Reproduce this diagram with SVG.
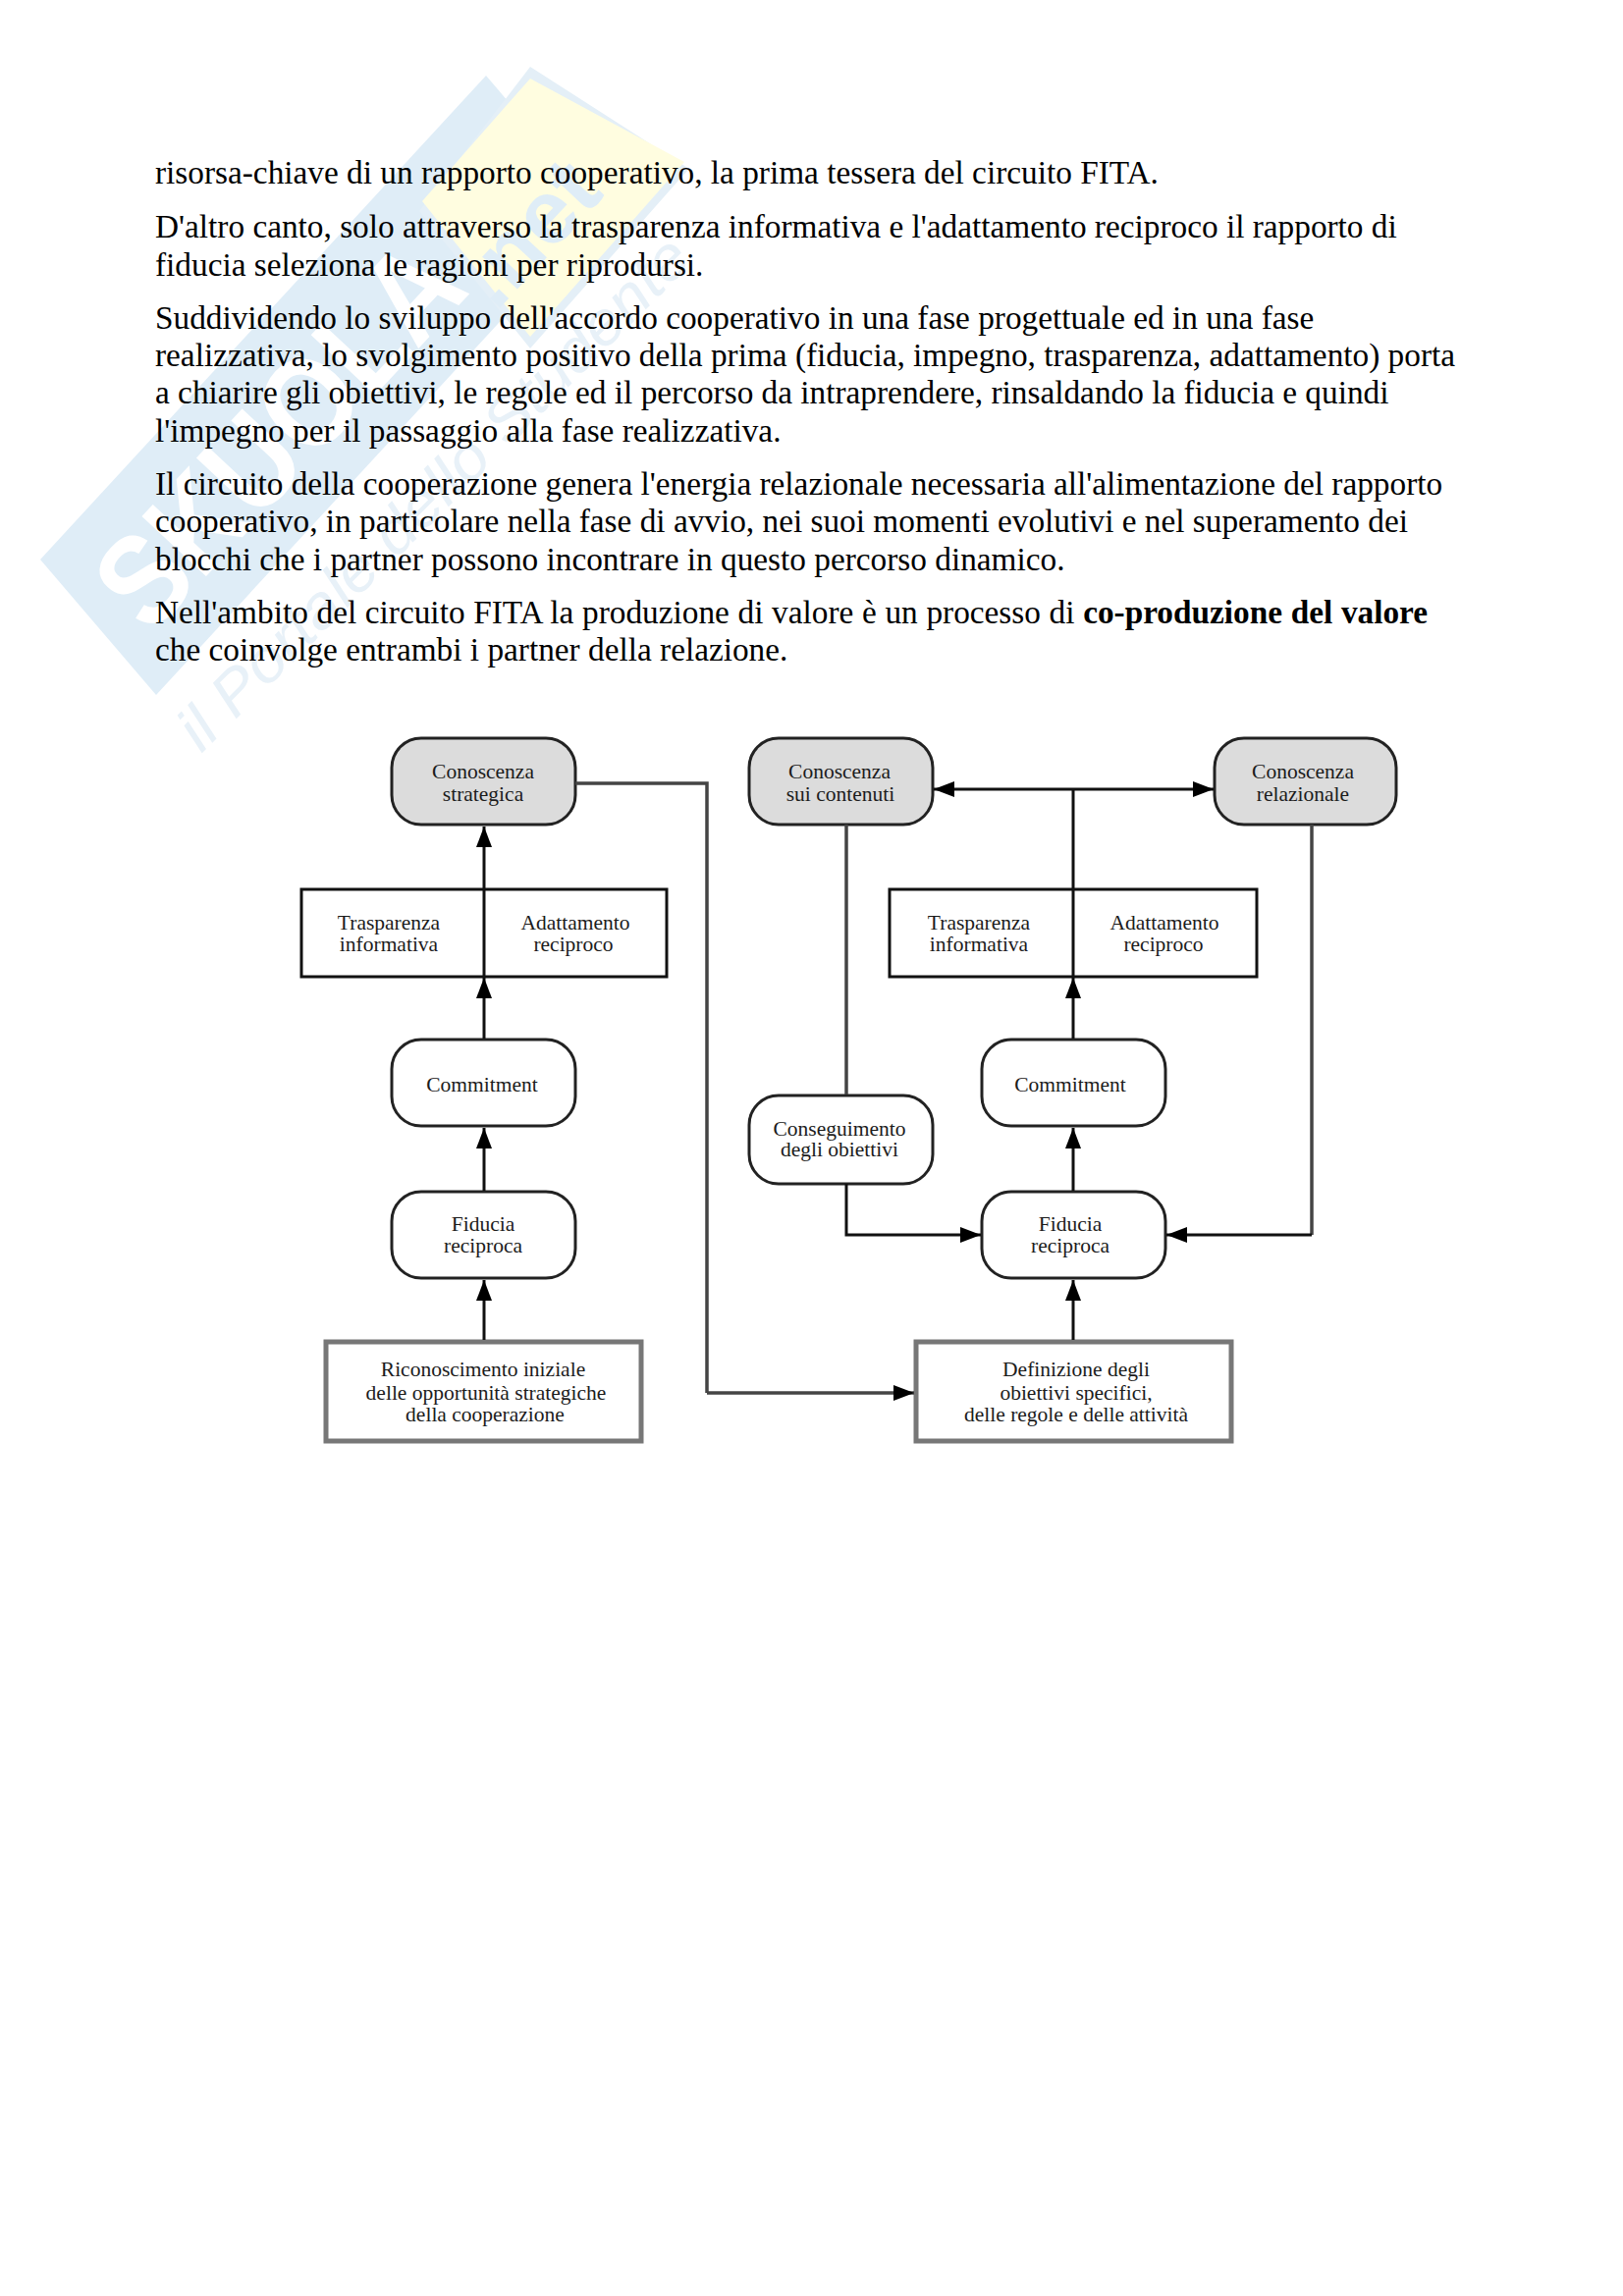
<svg xmlns="http://www.w3.org/2000/svg" width="1653" height="2339" viewBox="0 0 1653 2339">
<style>
.b{font:33.3px "Liberation Serif",serif;fill:#000}
.t{font:21.5px "Liberation Serif",serif;fill:#1c1c1c;text-anchor:middle}
.r{stroke:#222;stroke-width:3;fill:#fff}
.g{stroke:#222;stroke-width:3;fill:#dcdcdc}
.m{stroke:#111;stroke-width:3;fill:#fff}
.k{stroke:#777;stroke-width:5;fill:#fff}
.c{fill:none;stroke:#111;stroke-width:3}
.cg{fill:none;stroke:#444;stroke-width:3.5}
.ar{marker-end:url(#ah)}
</style>
<defs>
<marker id="ah" markerUnits="userSpaceOnUse" markerWidth="23" markerHeight="17" refX="21" refY="8" orient="auto-start-reverse"><path d="M0,0L21,8L0,16z" fill="#000"/></marker>
</defs>
<g id="watermark">
<polygon points="41,570 495,77 613,215 159,708" fill="#dfedf7"/>
<polygon points="540,68 702,172 690,185 540,355 427,215" fill="#e4eff7"/>
<polygon points="540,80 697,165 540,343 430,205" fill="#fffde0"/>
<text transform="translate(153,648) rotate(-47)" font-family="Liberation Sans, sans-serif" font-weight="700" font-size="130" fill="#fff" textLength="480" lengthAdjust="spacingAndGlyphs">SKUOLA</text>
<text transform="translate(505,318) rotate(-47)" font-family="Liberation Sans, sans-serif" font-weight="700" font-size="92" fill="#dfedf7">.net</text>
<text transform="translate(205,768) rotate(-45)" font-family="Liberation Sans, sans-serif" font-style="italic" font-size="62" fill="#e8f1f8" textLength="710" lengthAdjust="spacingAndGlyphs">il Portale dello Studente</text>
</g>
<g id="body-text">
<text class="b" x="158" y="187">risorsa-chiave di un rapporto cooperativo, la prima tessera del circuito FITA.</text>
<text class="b" x="158" y="242">D'altro canto, solo attraverso la trasparenza informativa e l'adattamento reciproco il rapporto di</text>
<text class="b" x="158" y="281">fiducia seleziona le ragioni per riprodursi.</text>
<text class="b" x="158" y="335">Suddividendo lo sviluppo dell'accordo cooperativo in una fase progettuale ed in una fase</text>
<text class="b" x="158" y="373">realizzativa, lo svolgimento positivo della prima (fiducia, impegno, trasparenza, adattamento) porta</text>
<text class="b" x="158" y="411">a chiarire gli obiettivi, le regole ed il percorso da intraprendere, rinsaldando la fiducia e quindi</text>
<text class="b" x="158" y="450">l'impegno per il passaggio alla fase realizzativa.</text>
<text class="b" x="158" y="504">Il circuito della cooperazione genera l'energia relazionale necessaria all'alimentazione del rapporto</text>
<text class="b" x="158" y="542">cooperativo, in particolare nella fase di avvio, nei suoi momenti evolutivi e nel superamento dei</text>
<text class="b" x="158" y="581">blocchi che i partner possono incontrare in questo percorso dinamico.</text>
<text class="b" x="158" y="635" word-spacing=".35">Nell'ambito del circuito FITA la produzione di valore è un processo di <tspan font-weight="700">co-produzione del valore</tspan></text>
<text class="b" x="158" y="673">che coinvolge entrambi i partner della relazione.</text>
</g>
<g id="n1"><rect class="g" x="399" y="752" width="187" height="88" rx="30"/><text class="t" x="492" y="793">Conoscenza</text><text class="t" x="492" y="816">strategica</text></g>
<g id="n2"><rect class="m" x="307" y="906" width="372" height="89"/><text class="t" x="396" y="947">Trasparenza</text><text class="t" x="396" y="969">informativa</text><text class="t" x="586" y="947">Adattamento</text><text class="t" x="584" y="969">reciproco</text></g>
<g id="n3"><rect class="r" x="399" y="1059" width="187" height="88" rx="30"/><text class="t" x="491" y="1112">Commitment</text></g>
<g id="n4"><rect class="r" x="399" y="1214" width="187" height="88" rx="30"/><text class="t" x="492" y="1254">Fiducia</text><text class="t" x="492" y="1276">reciproca</text></g>
<g id="n5"><rect class="k" x="332" y="1367" width="321" height="101"/><text class="t" x="492" y="1402">Riconoscimento iniziale</text><text class="t" x="495" y="1426">delle opportunità strategiche</text><text class="t" x="494" y="1448">della cooperazione</text></g>
<g id="n6"><rect class="g" x="763" y="752" width="187" height="88" rx="30"/><text class="t" x="855" y="793">Conoscenza</text><text class="t" x="856" y="816">sui contenuti</text></g>
<g id="n7"><rect class="g" x="1237" y="752" width="185" height="88" rx="30"/><text class="t" x="1327" y="793">Conoscenza</text><text class="t" x="1327" y="816">relazionale</text></g>
<g id="n8"><rect class="m" x="906" y="906" width="374" height="89"/><text class="t" x="997" y="947">Trasparenza</text><text class="t" x="997" y="969">informativa</text><text class="t" x="1186" y="947">Adattamento</text><text class="t" x="1185" y="969">reciproco</text></g>
<g id="n9"><rect class="r" x="1000" y="1059" width="187" height="88" rx="30"/><text class="t" x="1090" y="1112">Commitment</text></g>
<g id="n10"><rect class="r" x="763" y="1116" width="187" height="90" rx="30"/><text class="t" x="855" y="1157">Conseguimento</text><text class="t" x="855" y="1178">degli obiettivi</text></g>
<g id="n11"><rect class="r" x="1000" y="1214" width="187" height="88" rx="30"/><text class="t" x="1090" y="1254">Fiducia</text><text class="t" x="1090" y="1276">reciproca</text></g>
<g id="n12"><rect class="k" x="933" y="1367" width="321" height="101"/><text class="t" x="1096" y="1402">Definizione degli</text><text class="t" x="1096" y="1426">obiettivi specifici,</text><text class="t" x="1096" y="1448">delle regole e delle attività</text></g>
<g id="connectors">
<path class="c ar" d="M493,1365V1304"/>
<path class="c ar" d="M493,1213V1149"/>
<path class="c ar" d="M493,1058V996"/>
<path class="c ar" d="M493,994V842"/>
<path class="cg" d="M586,798H720V1419" />
<path class="cg ar" d="M720,1419H931"/>
<path class="c ar" d="M1093,1365V1304"/>
<path class="c ar" d="M1093,1213V1149"/>
<path class="c ar" d="M1093,1058V996"/>
<path class="c" d="M1093,994V804"/>
<path class="c ar" d="M1093,804H951"/>
<path class="c ar" d="M1093,804H1236"/>
<path class="cg" d="M862,840V1115"/>
<path class="c ar" d="M862,1206V1258H999"/>
<path class="cg" d="M1336,840V1258"/>
<path class="c ar" d="M1336,1258H1188"/>
</g>
</svg>
